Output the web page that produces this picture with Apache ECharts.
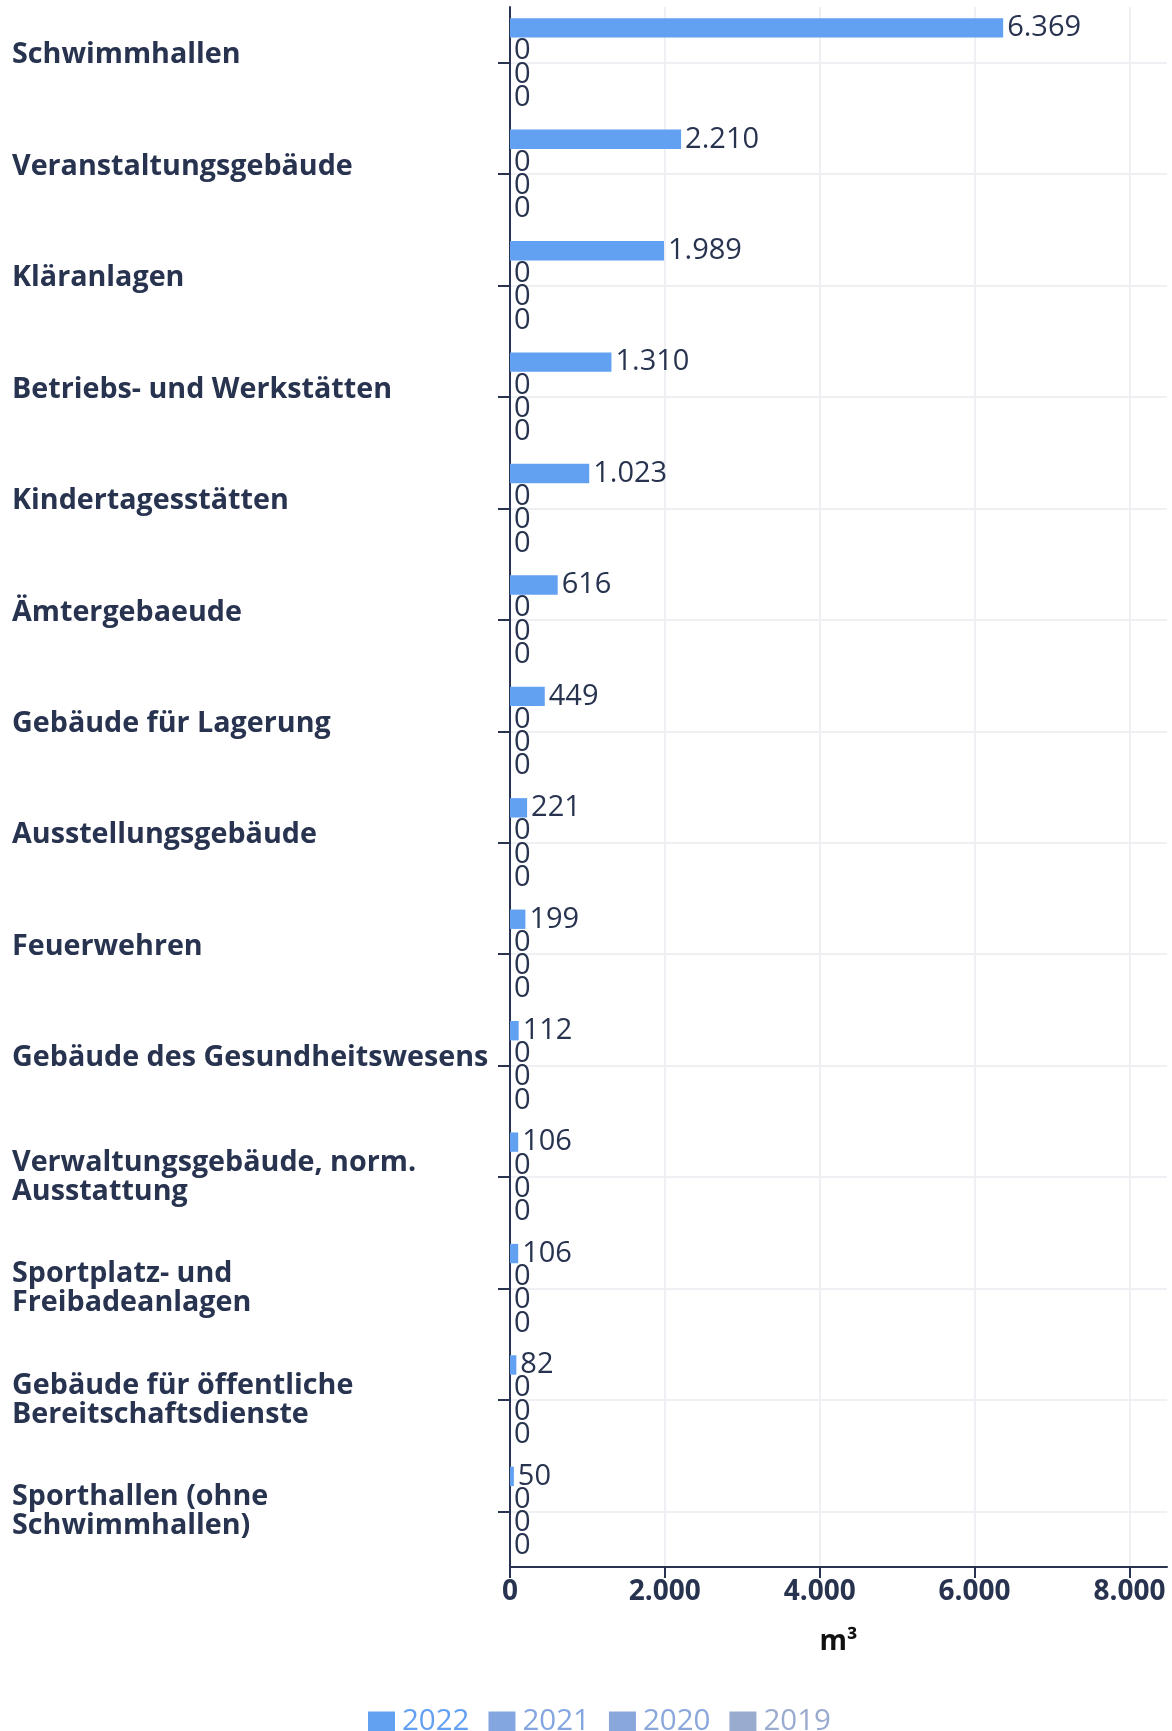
<!DOCTYPE html>
<html>
<head>
<meta charset="utf-8">
<script src="https://cdn.jsdelivr.net/npm/echarts@6/dist/echarts.min.js"></script>
<style>
html,body{margin:0;padding:0;background:#fff;}
#chart{width:1172px;height:1731px;}
</style>
</head>
<body>
<div id="chart"></div>
<script>
var categories = [
  'Schwimmhallen',
  'Veranstaltungsgebäude',
  'Kläranlagen',
  'Betriebs- und Werkstätten',
  'Kindertagesstätten',
  'Ämtergebaeude',
  'Gebäude für Lagerung',
  'Ausstellungsgebäude',
  'Feuerwehren',
  'Gebäude des Gesundheitswesens',
  'Verwaltungsgebäude, norm.\nAusstattung',
  'Sportplatz- und\nFreibadeanlagen',
  'Gebäude für öffentliche\nBereitschaftsdienste',
  'Sporthallen (ohne\nSchwimmhallen)'
];
var seriesNames = ['2022', '2021', '2020', '2019'];
var values2022 = [6369, 2210, 1989, 1310, 1023, 616, 449, 221, 199, 112, 106, 106, 82, 50];
var values2021 = [0, 0, 0, 0, 0, 0, 0, 0, 0, 0, 0, 0, 0, 0];
var values2020 = [0, 0, 0, 0, 0, 0, 0, 0, 0, 0, 0, 0, 0, 0];
var values2019 = [0, 0, 0, 0, 0, 0, 0, 0, 0, 0, 0, 0, 0, 0];
var xTicks = [0, 2000, 4000, 6000, 8000];

var colors = ['#62a0f2', '#84a6e0', '#8aa7dc', '#9aabd0'];
var dark = '#283350';
var FONT = 'Open Sans';

function fmt(v) {
  return String(Math.round(v)).replace(/\B(?=(\d{3})+(?!\d))/g, '.');
}

var allValues = [values2022, values2021, values2020, values2019];
var series = seriesNames.map(function (name, i) {
  return {
    name: name,
    type: 'bar',
    data: allValues[i],
    itemStyle: { color: colors[i] },
    barCategoryGap: '20%',
    barGap: '20%',
    label: {
      show: true,
      position: 'right',
      distance: 4,
      fontFamily: FONT,
      fontSize: 29,
      color: dark,
      padding: [3, 0, 0, 0],
      formatter: function (p) { return fmt(p.value); }
    }
  };
});

var chart = echarts.init(document.getElementById('chart'));
chart.setOption({
  animation: false,
  backgroundColor: '#fff',
  grid: { left: 510, right: 5, top: 7, bottom: 164, containLabel: false },
  legend: {
    left: 363,
    top: 1702,
    itemWidth: 27,
    itemHeight: 21,
    itemGap: 19,
    icon: 'rect',
    data: seriesNames.map(function (n, i) {
      return { name: n, textStyle: { color: colors[i] } };
    }),
    textStyle: { fontFamily: FONT, fontSize: 29.5, padding: [0, 0, 0, 2] }
  },
  xAxis: {
    type: 'value',
    min: 0,
    max: 8485,
    interval: 2000,
    name: 'm³',
    nameLocation: 'middle',
    nameGap: 61,
    nameTextStyle: { fontFamily: FONT, fontSize: 28, fontWeight: 'bold', color: '#111' },
    axisLine: { show: true, lineStyle: { color: dark, width: 2 } },
    axisTick: { show: true, length: 11, lineStyle: { color: dark, width: 2 }, customValues: xTicks },
    axisLabel: {
      margin: 11,
      fontFamily: FONT,
      fontSize: 28,
      fontWeight: 'bold',
      color: dark,
      customValues: xTicks,
      formatter: function (v) { return fmt(v); }
    },
    splitLine: { show: true, lineStyle: { color: '#eef0f3', width: 2 } }
  },
  yAxis: {
    type: 'category',
    inverse: true,
    data: categories,
    axisLine: { show: true, lineStyle: { color: dark, width: 2 } },
    axisTick: { show: true, alignWithLabel: true, length: 12, lineStyle: { color: dark, width: 2 } },
    splitLine: { show: true, alignWithLabel: true, lineStyle: { color: '#eef0f3', width: 2 } },
    axisLabel: {
      align: 'left',
      margin: 498,
      formatter: function (v) {
        var parts = v.split('\n');
        if (parts.length === 1) return '{s|' + v + '}';
        return parts.map(function (p) { return '{m|' + p + '}'; }).join('\n');
      },
      rich: {
        s: { fontFamily: FONT, fontSize: 28.7, fontWeight: 'bold', color: dark, padding: [0, 0, 15, 0] },
        m: { fontFamily: FONT, fontSize: 28.7, fontWeight: 'bold', color: dark, lineHeight: 29 }
      }
    }
  },
  series: series
});
</script>
</body>
</html>
